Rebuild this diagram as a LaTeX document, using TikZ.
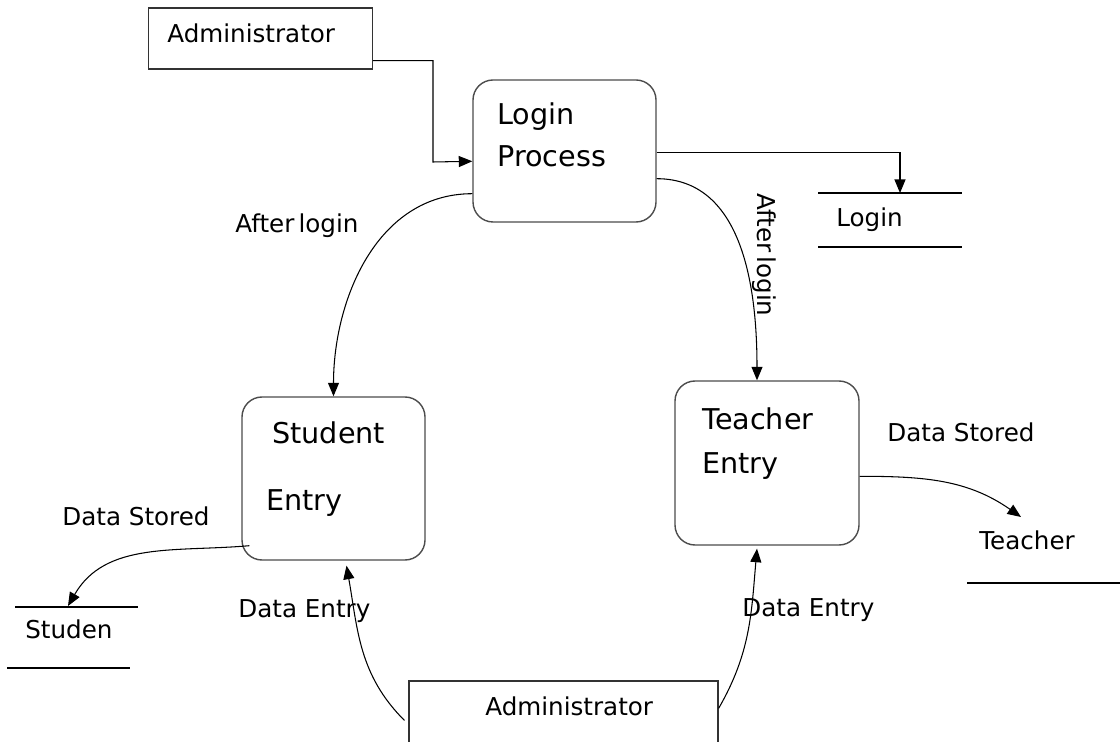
\documentclass[tikz,border=0pt]{standalone}
\usepackage{fontspec}
\setmainfont{DejaVu Sans}
\usetikzlibrary{arrows.meta,calc}

\tikzset{
  process/.style={draw=black!70, line width=0.8pt, rounded corners=4mm, inner sep=0pt},
  entity/.style={draw=black!80, line width=0.7pt, inner sep=0pt},
  flow/.style={line width=0.6pt, -{Triangle[length=2.7mm,width=2.2mm]}},
  store/.style={line width=0.7pt},
  bigtxt/.style={font=\fontsize{16.3}{19}\selectfont, inner sep=0pt, anchor=base west},
  smalltxt/.style={font=\fontsize{14}{16}\selectfont, inner sep=0pt, anchor=base west},
}

\begin{document}
\begin{tikzpicture}[x=0.2mm,y=-0.2mm]
\path[use as bounding box, clip] (0,0) rectangle (1120,742);
\node[entity, minimum width=44.8mm, minimum height=12.2mm] (admtop) at (260.5,38.5) {};
\node[entity, minimum width=61.8mm, minimum height=16mm] (admbot) at (563.5,721) {};
\node[process, minimum width=36.6mm, minimum height=28.4mm] (login) at (564.5,151) {};
\node[process, minimum width=36.6mm, minimum height=32.6mm] (student) at (333.5,478.5) {};
\node[process, minimum width=36.8mm, minimum height=32.8mm] (teacher) at (767,463) {};
\node[smalltxt] (admtoptxt) at (167,43) {Administrator};
\node[smalltxt] (admbottxt) at (485,715) {Administrator};
\node[bigtxt] (logintxt) at (497,125) {Login};
\node[bigtxt] (processtxt) at (497,167) {Process};
\node[bigtxt] (studenttxt) at (272,444) {Student};
\node[bigtxt] (studententry) at (266,511) {Entry};
\node[bigtxt] (teachertxt) at (702,430) {Teacher};
\node[bigtxt] (teacherentry) at (702,474) {Entry};
% data stores
\draw[store] (818,193) -- (962,193) (818,247) -- (962,247);
\node[smalltxt] (loginstore) at (836,227) {Login};
\draw[store] (15,607) -- (138,607) (7,668) -- (130,668);
\node[smalltxt] (studstore) at (25,638) {Studen};
\draw[store] (967,583) -- (1120,583);
\node[smalltxt] (teachstore) at (979,550) {Teacher};
\coordinate (loginin) at (900,193);
\coordinate (studin) at (68,606);
\coordinate (teachin) at (1021,517);
% flows
\draw[flow] ($(admtop.south east)+(0,-9)$) -| (433,162) -- ($(login.north west)+(0,82)$);
\draw[flow] ($(login.north east)+(0,73)$) -| (loginin);
\draw[flow] ($(login.south west)+(0,-29)$) to[out=180,in=90] (student.north);
\draw[flow] ($(login.south east)+(0,-44)$) to[out=0,in=90] ($(teacher.north)+(-10,0)$);
\draw[flow] ($(student.south west)+(8,-15)$) to[out=185,in=60] (studin);
\draw[flow] ($(teacher.north east)+(0,96)$) to[out=0,in=145] (teachin);
\draw[flow] ($(admbot.north west)+(-4,40)$) to[out=135,in=-80] ($(student.south)+(13,5)$);
\draw[flow] ($(admbot.north east)+(0,28)$) to[out=60,in=-95] ($(teacher.south)+(-10,3)$);
\node[smalltxt] (afterleft) at (235,233) {After\,login};
\node[smalltxt, rotate=-90] (afterright) at (757,193) {After\,login};
\node[smalltxt] (storedleft) at (62,526) {Data Stored};
\node[smalltxt] (entryleft) at (238,618) {Data Entry};
\node[smalltxt] (entryright) at (742,617) {Data Entry};
\node[smalltxt] (storedright) at (887,442) {Data Stored};
\end{tikzpicture}
\end{document}
